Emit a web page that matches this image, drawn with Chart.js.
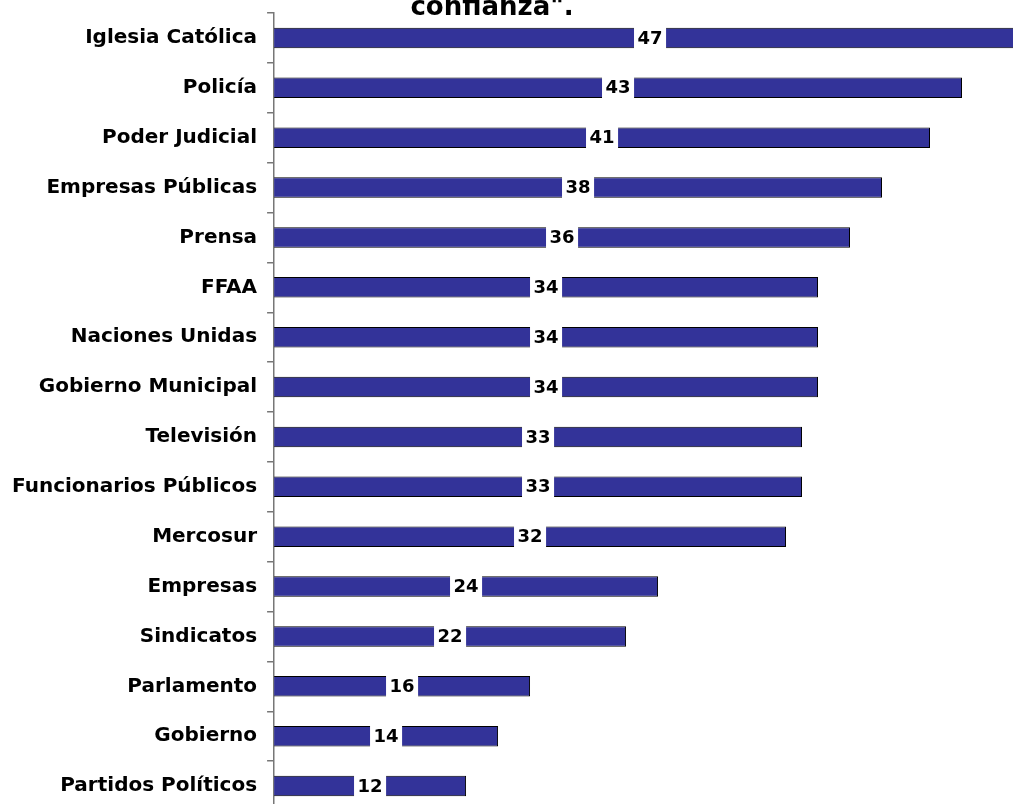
<!DOCTYPE html>
<html>
<head>
<meta charset="utf-8">
<script src="https://cdn.jsdelivr.net/npm/chart.js@4/dist/chart.umd.min.js"></script>
<style>
  html, body { margin: 0; padding: 0; background: #fff; overflow: hidden; }
  #wrap { position: absolute; left: 0; top: -9px; width: 1074px; height: 842px; }
</style>
</head>
<body>
<div id="wrap"><canvas id="chart-confianza"></canvas></div>
<script>
const categorias = ['Iglesia Católica', 'Policía', 'Poder Judicial', 'Empresas Públicas', 'Prensa', 'FFAA',
  'Naciones Unidas', 'Gobierno Municipal', 'Televisión', 'Funcionarios Públicos', 'Mercosur',
  'Empresas', 'Sindicatos', 'Parlamento', 'Gobierno', 'Partidos Políticos'];
const valores = [47, 43, 41, 38, 36, 34, 34, 34, 33, 33, 32, 24, 22, 16, 14, 12];
const tituloVisible = 'confianza".';

const fuente = "'DejaVu Sans', Verdana, sans-serif";

// etiqueta con fondo blanco en el centro de cada barra
const etiquetasPlugin = {
  id: 'etiquetas',
  afterDatasetsDraw(chart) {
    const ctx = chart.ctx;
    const meta = chart.getDatasetMeta(0);
    ctx.save();
    ctx.font = 'bold 18px ' + fuente;
    ctx.textAlign = 'center';
    ctx.textBaseline = 'middle';
    meta.data.forEach((bar, i) => {
      const x = (bar.x + bar.base) / 2;
      const txt = String(valores[i]);
      const w = ctx.measureText(txt).width + 7;
      ctx.fillStyle = '#fff';
      ctx.fillRect(x - w / 2, bar.y - bar.height / 2 - 1, w, bar.height + 2);
      ctx.fillStyle = '#000';
      ctx.fillText(txt, x, bar.y + 1);
    });
    ctx.restore();
  }
};

// resto del título (la primera línea queda fuera del recorte)
const tituloPlugin = {
  id: 'tituloCortado',
  afterDraw(chart) {
    const ctx = chart.ctx;
    ctx.save();
    ctx.font = 'bold 26px ' + fuente;
    ctx.textAlign = 'center';
    ctx.textBaseline = 'alphabetic';
    ctx.fillStyle = '#000';
    ctx.fillText(tituloVisible, 492, 24);
    ctx.restore();
  }
};

new Chart(document.getElementById('chart-confianza'), {
  type: 'bar',
  data: {
    labels: categorias,
    datasets: [{
      data: valores,
      backgroundColor: '#333399',
      borderColor: '#000',
      borderWidth: 1,
      categoryPercentage: 1,
      barPercentage: 0.41
    }]
  },
  options: {
    indexAxis: 'y',
    responsive: true,
    maintainAspectRatio: false,
    animation: false,
    layout: { padding: { top: 0, bottom: 0, left: 2, right: 0 } },
    plugins: {
      legend: { display: false },
      tooltip: { enabled: false }
    },
    scales: {
      x: {
        display: false,
        min: 0,
        max: 50
      },
      y: {
        grid: {
          offset: true,
          drawOnChartArea: false,
          tickLength: 7,
          color: '#777',
          lineWidth: 1.5
        },
        border: { color: '#777', width: 1.5 },
        ticks: {
          color: '#000',
          padding: 10,
          font: { family: fuente, size: 20, weight: 'bold' }
        }
      }
    }
  },
  plugins: [etiquetasPlugin, tituloPlugin]
});
</script>
</body>
</html>
